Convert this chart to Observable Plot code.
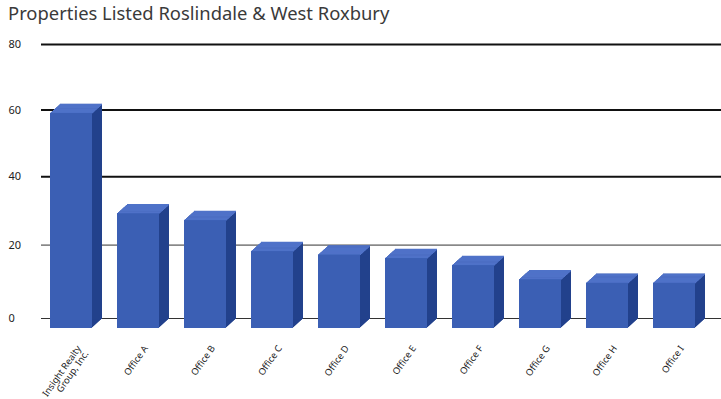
<!DOCTYPE html>
<html><head><meta charset="utf-8">
<script src="https://cdn.jsdelivr.net/npm/d3@7"></script>
<script src="https://cdn.jsdelivr.net/npm/@observablehq/plot@0.6"></script>
<style>
body{margin:0;background:#fff;font-family:"Noto Sans",sans-serif;}
#title{height:34px;box-sizing:border-box;padding:2px 0 0 8px;font-size:18.4px;line-height:22px;color:#3a3a3a;white-space:nowrap}
</style></head><body>
<div id="title">Properties Listed Roslindale &amp; West Roxbury</div>
<div id="chart"></div>
<script>
const offices = ["Insight Realty\nGroup, Inc.", "Office A", "Office B", "Office C", "Office D", "Office E", "Office F", "Office G", "Office H", "Office I"];
const listings = [62, 32, 30, 21, 20, 19, 17, 13, 12, 12];
const yTicks = [0, 20, 40, 60, 80];

const data = offices.map((office, i) => ({office, listings: listings[i]}));
const depth = d3.range(1, 11);
const bar = {x: "office", y: "listings", insetLeft: 8, insetRight: 17};

const marks = [
  Plot.ruleY(yTicks.filter(t => t >= 40), {stroke: "#111", strokeWidth: 2}),
  Plot.ruleY(yTicks.filter(t => t < 40), {stroke: "#333", strokeWidth: 1}),
  Plot.text(yTicks, {y: d => d, text: d => String(d), frameAnchor: "left", textAnchor: "start", dx: -33, fontSize: 11, fill: "#222"})
];
for (const k of depth) marks.push(Plot.barY(data, {...bar, fill: "#22418c", dx: k, dy: 10 - 0.9 * k}));
for (const k of [0, ...depth]) marks.push(Plot.tickY(data, {...bar, stroke: "#4f72c8", strokeWidth: 1.5, dx: k, dy: 10 - 0.9 * k}));
marks.push(Plot.barY(data, {...bar, fill: "#3b5fb4", dy: 10}));
marks.push(Plot.text(offices, {x: d => d, text: d => d, frameAnchor: "bottom", rotate: -55, textAnchor: "end", lineAnchor: "top", dy: 26, fontSize: 9.3, fill: "#222"}));

const chart = Plot.plot({
  width: 721, height: 365,
  marginLeft: 41, marginRight: 0, marginTop: 10, marginBottom: 81,
  style: {fontFamily: "Noto Sans, sans-serif", background: "#fff"},
  x: {type: "band", domain: offices, range: [42, 712], padding: 0, axis: null},
  y: {type: "pow", exponent: 0.95, domain: [0, 80], axis: null},
  marks
});
document.getElementById("chart").appendChild(chart);
</script>
</body></html>
